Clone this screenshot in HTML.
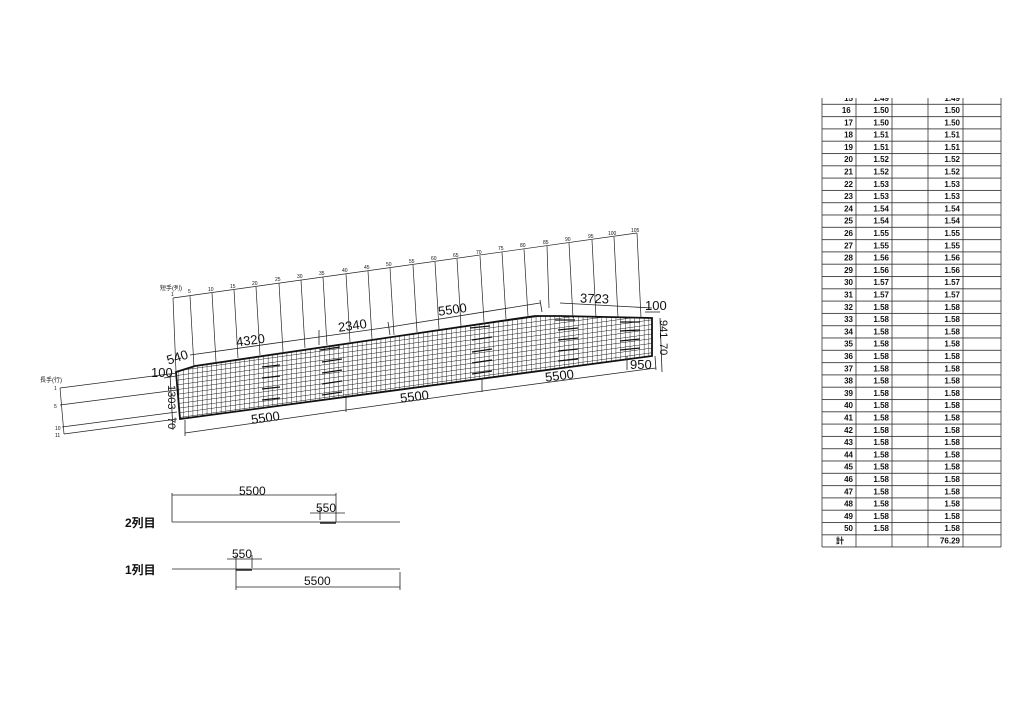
<!DOCTYPE html>
<html><head><meta charset="utf-8"><style>
html,body{margin:0;padding:0;background:#fff;}
svg{display:block;}
text{font-family:"Liberation Sans","Noto Sans CJK JP",sans-serif;fill:#111;}
.t{font-size:8px;font-weight:bold;}
.d{font-size:13px;}
</style></head><body>
<svg width="1024" height="724" viewBox="0 0 1024 724" xmlns="http://www.w3.org/2000/svg">
<defs>
<pattern id="grid" width="4.7" height="4.7" patternUnits="userSpaceOnUse" patternTransform="skewY(-7.8)">
<path d="M0 0H4.7M0 0V4.7" stroke="#111" stroke-width="0.9" fill="none"/>
</pattern>
<pattern id="rows" x="0" y="103.85" width="200" height="12.3" patternUnits="userSpaceOnUse">
<line x1="0" y1="0.4" x2="200" y2="0.4" stroke="#333" stroke-width="0.8"/>
</pattern>
<clipPath id="cp"><polygon points="176,372 195,366 535,316 560,316 652,318 652,356 180,419"/></clipPath>
</defs>

<g stroke="#222" stroke-width="0.7" fill="none">
<line x1="173" y1="298" x2="637" y2="233"/>
<line x1="173" y1="298" x2="176" y2="372"/>
<line x1="190" y1="296" x2="194" y2="367"/>
<line x1="212" y1="293" x2="216" y2="362"/>
<line x1="234" y1="290" x2="238" y2="358"/>
<line x1="256" y1="287" x2="260" y2="355"/>
<line x1="279" y1="283" x2="283" y2="352"/>
<line x1="301" y1="280" x2="305" y2="348"/>
<line x1="323" y1="277" x2="327" y2="345"/>
<line x1="346" y1="274" x2="350" y2="342"/>
<line x1="368" y1="271" x2="372" y2="339"/>
<line x1="390" y1="268" x2="394" y2="335"/>
<line x1="413" y1="265" x2="417" y2="332"/>
<line x1="435" y1="262" x2="439" y2="329"/>
<line x1="457" y1="259" x2="461" y2="326"/>
<line x1="480" y1="256" x2="484" y2="322"/>
<line x1="502" y1="252" x2="506" y2="319"/>
<line x1="524" y1="249" x2="528" y2="316"/>
<line x1="547" y1="246" x2="549" y2="308"/>
<line x1="569" y1="243" x2="573" y2="318"/>
<line x1="592" y1="240" x2="596" y2="318"/>
<line x1="614" y1="237" x2="618" y2="318"/>
<line x1="637" y1="233" x2="641" y2="318"/>
<line x1="60" y1="388" x2="177" y2="373"/>
<line x1="60" y1="405" x2="177" y2="390"/>
<line x1="62" y1="427" x2="177" y2="412"/>
<line x1="64" y1="434" x2="177" y2="419"/>
<line x1="60" y1="388" x2="64" y2="434"/>
</g>
<g style="font-size:5px">
<text x="160" y="290" style="font-size:6px">短手(列)</text>
<text x="171" y="296">1</text>
<text x="188" y="293">5</text>
<text x="208" y="291">10</text>
<text x="230" y="288">15</text>
<text x="252" y="285">20</text>
<text x="275" y="281">25</text>
<text x="297" y="278">30</text>
<text x="319" y="275">35</text>
<text x="342" y="272">40</text>
<text x="364" y="269">45</text>
<text x="386" y="266">50</text>
<text x="409" y="263">55</text>
<text x="431" y="260">60</text>
<text x="453" y="257">65</text>
<text x="476" y="254">70</text>
<text x="498" y="250">75</text>
<text x="520" y="247">80</text>
<text x="543" y="244">85</text>
<text x="565" y="241">90</text>
<text x="588" y="238">95</text>
<text x="608" y="235">100</text>
<text x="631" y="232">105</text>
<text x="40" y="382" style="font-size:6px">長手(行)</text>
<text x="54" y="390">1</text>
<text x="54" y="408">5</text>
<text x="55" y="430">10</text>
<text x="55" y="437">11</text>
</g>

<rect x="170" y="300" width="490" height="125" fill="url(#grid)" clip-path="url(#cp)"/>
<polygon points="176,372 195,366 535,316 560,316 652,318 652,356 180,419" fill="none" stroke="#111" stroke-width="1.8"/>
<g stroke="#111" stroke-width="1.3">
<line x1="262" y1="367" x2="280" y2="365"/><line x1="262" y1="378" x2="280" y2="376"/><line x1="262" y1="389" x2="280" y2="387"/><line x1="262" y1="400" x2="280" y2="398"/>
<line x1="320" y1="350" x2="340" y2="347"/><line x1="322" y1="362" x2="342" y2="359"/><line x1="322" y1="373" x2="342" y2="370"/><line x1="322" y1="384" x2="342" y2="381"/><line x1="322" y1="395" x2="342" y2="392"/>
<line x1="470" y1="328" x2="490" y2="326"/><line x1="472" y1="340" x2="492" y2="337"/><line x1="472" y1="352" x2="492" y2="349"/><line x1="472" y1="363" x2="492" y2="360"/><line x1="472" y1="374" x2="492" y2="371"/>
<line x1="555" y1="320" x2="575" y2="320"/><line x1="558" y1="330" x2="578" y2="328"/><line x1="558" y1="340" x2="578" y2="338"/><line x1="558" y1="351" x2="578" y2="349"/><line x1="558" y1="361" x2="578" y2="359"/>
<line x1="620" y1="322" x2="640" y2="322"/><line x1="620" y1="331" x2="640" y2="330"/><line x1="620" y1="341" x2="640" y2="339"/><line x1="620" y1="350" x2="640" y2="348"/>
</g>

<g stroke="#222" stroke-width="0.8" fill="none">
<line x1="190" y1="355" x2="319" y2="337"/>
<line x1="319" y1="337" x2="390" y2="327"/>
<line x1="390" y1="327" x2="540" y2="303"/>
<line x1="560" y1="303" x2="652" y2="308"/>
<line x1="319" y1="330" x2="319" y2="345"/><line x1="388" y1="322" x2="390" y2="335"/>
<line x1="540" y1="300" x2="542" y2="312"/>
<line x1="185" y1="433" x2="346" y2="410"/><line x1="346" y1="410" x2="490" y2="390"/><line x1="490" y1="390" x2="656" y2="368"/>
<line x1="185" y1="420" x2="185" y2="436"/><line x1="346" y1="395" x2="346" y2="412"/><line x1="482" y1="378" x2="482" y2="392"/><line x1="655" y1="356" x2="656" y2="370"/>
<line x1="627" y1="356" x2="627" y2="370"/>
<line x1="170" y1="374" x2="173" y2="430"/>
<line x1="660" y1="318" x2="662" y2="372"/>
<line x1="164" y1="378" x2="176" y2="376"/>
<line x1="645" y1="312" x2="660" y2="312"/>
</g>
<g class="d">
<text x="236" y="344" transform="rotate(-8 255 340)">4320</text>
<text x="338" y="330" transform="rotate(-8 352 326)">2340</text>
<text x="438" y="314" transform="rotate(-8 452 310)">5500</text>
<text x="580" y="303" transform="rotate(2 593 300)">3723</text>
<text x="645" y="310">100</text>
<text x="166" y="362" transform="rotate(-18 176 356)">540</text>
<text x="151" y="377">100</text>
<text x="168" y="385" transform="rotate(90 168 385)" style="font-size:11px">1303</text>
<text x="168" y="417" transform="rotate(90 168 417)" style="font-size:11px">70</text>
<text x="660" y="320" transform="rotate(90 660 320)" style="font-size:11px">941</text>
<text x="660" y="343" transform="rotate(90 660 343)" style="font-size:11px">70</text>
<text x="630" y="369">950</text>
<text x="251" y="422" transform="rotate(-8 266 418)">5500</text>
<text x="400" y="401" transform="rotate(-7 414 397)">5500</text>
<text x="545" y="380" transform="rotate(-7 560 376)">5500</text>
</g>

<g stroke="#222" stroke-width="0.8" fill="none">
<line x1="172" y1="522" x2="400" y2="522"/>
<line x1="320" y1="523" x2="336" y2="523" stroke-width="1.5"/>
<line x1="172" y1="495" x2="336" y2="495"/>
<line x1="172" y1="493" x2="172" y2="522"/><line x1="336" y1="493" x2="336" y2="522"/>
<line x1="310" y1="513" x2="345" y2="513"/><line x1="320" y1="508" x2="320" y2="520"/>
<line x1="172" y1="569" x2="400" y2="569"/>
<line x1="236" y1="570" x2="252" y2="570" stroke-width="1.5"/>
<line x1="227" y1="559" x2="262" y2="559"/><line x1="252" y1="555" x2="252" y2="568"/>
<line x1="236" y1="555" x2="236" y2="590"/><line x1="400" y1="572" x2="400" y2="590"/>
<line x1="236" y1="587" x2="400" y2="587"/>
</g>
<g style="font-size:12px">
<text x="239" y="495">5500</text>
<text x="316" y="512">550</text>
<text x="232" y="558">550</text>
<text x="304" y="585">5500</text>
<text x="125" y="527" style="font-weight:bold">2列目</text>
<text x="125" y="574" style="font-weight:bold">1列目</text>
</g>

<!-- table -->
<rect x="822" y="103" width="179" height="444" fill="url(#rows)"/>
<g stroke="#333" stroke-width="0.8" fill="none">
<line x1="822" y1="97" x2="822" y2="547"/>
<line x1="856" y1="97" x2="856" y2="547"/>
<line x1="892" y1="97" x2="892" y2="547"/>
<line x1="928" y1="97" x2="928" y2="547"/>
<line x1="963" y1="97" x2="963" y2="547"/>
<line x1="1001" y1="97" x2="1001" y2="547"/>
<line x1="822" y1="547" x2="1001" y2="547"/>
</g>
<g class="t" text-anchor="end">
<text y="101">
<tspan x="853">15</tspan><tspan x="889">1.49</tspan><tspan x="960">1.49</tspan>
</text>
<text y="113">
<tspan x="853">16</tspan>
<tspan x="853" dy="12.3">17</tspan><tspan x="853" dy="12.3">18</tspan><tspan x="853" dy="12.3">19</tspan><tspan x="853" dy="12.3">20</tspan><tspan x="853" dy="12.3">21</tspan><tspan x="853" dy="12.3">22</tspan><tspan x="853" dy="12.3">23</tspan><tspan x="853" dy="12.3">24</tspan><tspan x="853" dy="12.3">25</tspan><tspan x="853" dy="12.3">26</tspan><tspan x="853" dy="12.3">27</tspan><tspan x="853" dy="12.3">28</tspan><tspan x="853" dy="12.3">29</tspan><tspan x="853" dy="12.3">30</tspan><tspan x="853" dy="12.3">31</tspan><tspan x="853" dy="12.3">32</tspan><tspan x="853" dy="12.3">33</tspan><tspan x="853" dy="12.3">34</tspan><tspan x="853" dy="12.3">35</tspan><tspan x="853" dy="12.3">36</tspan><tspan x="853" dy="12.3">37</tspan><tspan x="853" dy="12.3">38</tspan><tspan x="853" dy="12.3">39</tspan><tspan x="853" dy="12.3">40</tspan><tspan x="853" dy="12.3">41</tspan><tspan x="853" dy="12.3">42</tspan><tspan x="853" dy="12.3">43</tspan><tspan x="853" dy="12.3">44</tspan><tspan x="853" dy="12.3">45</tspan><tspan x="853" dy="12.3">46</tspan><tspan x="853" dy="12.3">47</tspan><tspan x="853" dy="12.3">48</tspan><tspan x="853" dy="12.3">49</tspan><tspan x="853" dy="12.3">50</tspan>
</text>
<text y="113">
<tspan x="889">1.50</tspan><tspan x="889" dy="12.3">1.50</tspan><tspan x="889" dy="12.3">1.51</tspan><tspan x="889" dy="12.3">1.51</tspan><tspan x="889" dy="12.3">1.52</tspan><tspan x="889" dy="12.3">1.52</tspan><tspan x="889" dy="12.3">1.53</tspan><tspan x="889" dy="12.3">1.53</tspan><tspan x="889" dy="12.3">1.54</tspan><tspan x="889" dy="12.3">1.54</tspan><tspan x="889" dy="12.3">1.55</tspan><tspan x="889" dy="12.3">1.55</tspan><tspan x="889" dy="12.3">1.56</tspan><tspan x="889" dy="12.3">1.56</tspan><tspan x="889" dy="12.3">1.57</tspan><tspan x="889" dy="12.3">1.57</tspan><tspan x="889" dy="12.3">1.58</tspan><tspan x="889" dy="12.3">1.58</tspan><tspan x="889" dy="12.3">1.58</tspan><tspan x="889" dy="12.3">1.58</tspan><tspan x="889" dy="12.3">1.58</tspan><tspan x="889" dy="12.3">1.58</tspan><tspan x="889" dy="12.3">1.58</tspan><tspan x="889" dy="12.3">1.58</tspan><tspan x="889" dy="12.3">1.58</tspan><tspan x="889" dy="12.3">1.58</tspan><tspan x="889" dy="12.3">1.58</tspan><tspan x="889" dy="12.3">1.58</tspan><tspan x="889" dy="12.3">1.58</tspan><tspan x="889" dy="12.3">1.58</tspan><tspan x="889" dy="12.3">1.58</tspan><tspan x="889" dy="12.3">1.58</tspan><tspan x="889" dy="12.3">1.58</tspan><tspan x="889" dy="12.3">1.58</tspan><tspan x="889" dy="12.3">1.58</tspan>
</text>
<text y="113">
<tspan x="960">1.50</tspan><tspan x="960" dy="12.3">1.50</tspan><tspan x="960" dy="12.3">1.51</tspan><tspan x="960" dy="12.3">1.51</tspan><tspan x="960" dy="12.3">1.52</tspan><tspan x="960" dy="12.3">1.52</tspan><tspan x="960" dy="12.3">1.53</tspan><tspan x="960" dy="12.3">1.53</tspan><tspan x="960" dy="12.3">1.54</tspan><tspan x="960" dy="12.3">1.54</tspan><tspan x="960" dy="12.3">1.55</tspan><tspan x="960" dy="12.3">1.55</tspan><tspan x="960" dy="12.3">1.56</tspan><tspan x="960" dy="12.3">1.56</tspan><tspan x="960" dy="12.3">1.57</tspan><tspan x="960" dy="12.3">1.57</tspan><tspan x="960" dy="12.3">1.58</tspan><tspan x="960" dy="12.3">1.58</tspan><tspan x="960" dy="12.3">1.58</tspan><tspan x="960" dy="12.3">1.58</tspan><tspan x="960" dy="12.3">1.58</tspan><tspan x="960" dy="12.3">1.58</tspan><tspan x="960" dy="12.3">1.58</tspan><tspan x="960" dy="12.3">1.58</tspan><tspan x="960" dy="12.3">1.58</tspan><tspan x="960" dy="12.3">1.58</tspan><tspan x="960" dy="12.3">1.58</tspan><tspan x="960" dy="12.3">1.58</tspan><tspan x="960" dy="12.3">1.58</tspan><tspan x="960" dy="12.3">1.58</tspan><tspan x="960" dy="12.3">1.58</tspan><tspan x="960" dy="12.3">1.58</tspan><tspan x="960" dy="12.3">1.58</tspan><tspan x="960" dy="12.3">1.58</tspan><tspan x="960" dy="12.3">1.58</tspan>
</text>
<text x="960" y="543.5">76.29</text>
</g>
<text x="836" y="543.5" class="t">計</text>
<rect x="815" y="90" width="200" height="8" fill="#fff"/>
</svg>
</body></html>
